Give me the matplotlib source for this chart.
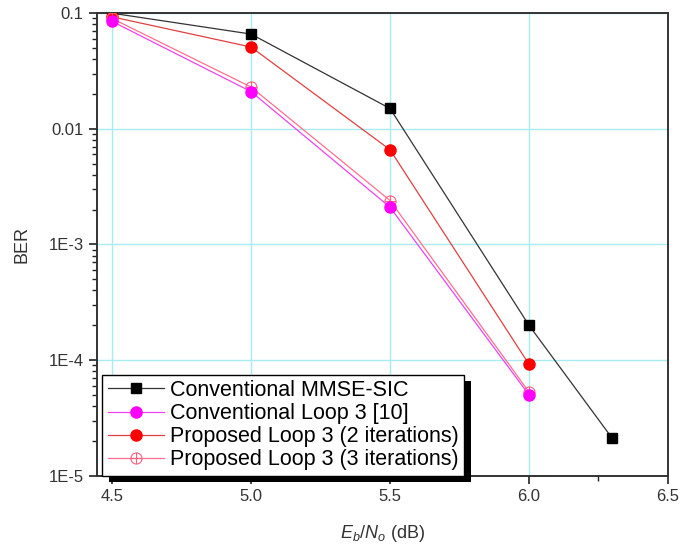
import numpy as np
import matplotlib
matplotlib.use("Agg")
import matplotlib.pyplot as plt
from matplotlib.path import Path
from matplotlib.patches import Rectangle
from matplotlib.ticker import FixedLocator, NullFormatter, MultipleLocator

plt.rcParams['font.family'] = ['Liberation Sans', 'DejaVu Sans']
plt.rcParams['mathtext.fontset'] = 'custom'
plt.rcParams['mathtext.it'] = 'Liberation Sans:italic'
plt.rcParams['mathtext.rm'] = 'Liberation Sans'

# data
snr = [4.5, 5.0, 5.5, 6.0]
snr_mmse = [4.5, 5.0, 5.5, 6.0, 6.3]
ber_mmse = [0.1, 0.066, 0.015, 2.0e-4, 2.1e-5]
ber_conv_loop3 = [0.085, 0.021, 0.0021, 5.0e-5]
ber_prop_2it = [0.093, 0.051, 0.0066, 9.2e-5]
ber_prop_3it = [0.09, 0.023, 0.0024, 5.3e-5]

labels = ['Conventional MMSE-SIC', 'Conventional Loop 3 [10]',
          'Proposed Loop 3 (2 iterations)', 'Proposed Loop 3 (3 iterations)']
yticks = [1e-5, 1e-4, 1e-3, 1e-2, 1e-1]
ytick_labels = ['1E-5', '1E-4', '1E-3', '0.01', '0.1']
xticks = [4.5, 5.0, 5.5, 6.0, 6.5]

# circle with a cross, for the 3-iteration curve
circ = Path.unit_circle()
hline = Path([[-1, 0], [1, 0]], [Path.MOVETO, Path.LINETO])
vline = Path([[0, -1], [0, 1]], [Path.MOVETO, Path.LINETO])
oplus = Path.make_compound_path(circ, hline, vline)

fig = plt.figure(figsize=(6.98, 5.5), dpi=100)
ax = fig.add_axes([0.139, 0.135, 0.818, 0.841])

ax.plot(snr_mmse, ber_mmse, color='#333333', lw=0.9, marker='s', ms=7,
        mfc='black', mec='black', label=labels[0], zorder=3)
ax.plot(snr, ber_conv_loop3, color='#ee44ee', lw=0.9, marker='o', ms=8,
        mfc='#ff00ff', mec='#ff00ff', label=labels[1], zorder=4)
ax.plot(snr, ber_prop_2it, color='#e04040', lw=0.9, marker='o', ms=8,
        mfc='#ff0000', mec='#ff0000', label=labels[2], zorder=3)
ax.plot(snr, ber_prop_3it, color='#ff7090', lw=0.9, marker=oplus, ms=8,
        mfc='none', mec='#ff6080', mew=0.8, label=labels[3], zorder=3)

ax.set_yscale('log')
ax.set_ylim(1e-5, 0.1)
ax.set_xlim(4.446, 6.5)
ax.yaxis.set_major_locator(FixedLocator(yticks))
ax.set_yticklabels(ytick_labels)
minors = [m * d for d in [1e-5, 1e-4, 1e-3, 1e-2] for m in range(2, 10)]
ax.yaxis.set_minor_locator(FixedLocator(minors))
ax.yaxis.set_minor_formatter(NullFormatter())
ax.set_xticks(xticks)
ax.set_xticklabels(['4.5', '5.0', '5.5', '6.0', '6.5'])
ax.xaxis.set_minor_locator(MultipleLocator(0.25))

ax.grid(True, which='major', color='#a8ecf0', lw=1.0)
ax.set_axisbelow(True)
ax.tick_params(which='major', direction='out', length=6, width=1.2, labelsize=12,
               colors='#222222', labelcolor='#333333')
ax.tick_params(which='minor', direction='out', length=3.5, width=1.0, colors='#222222')
for s in ax.spines.values():
    s.set_linewidth(1.4)
    s.set_color('#333333')

ax.set_ylabel('BER', fontsize=13, color='#333333', labelpad=13)
ax.set_xlabel(r'$E_b/N_o$ (dB)', fontsize=13, color='#333333', labelpad=14)

leg = ax.legend(loc='lower left', bbox_to_anchor=(0.009, 0.0), borderaxespad=0,
                fontsize=15.5, handlelength=2.6, handletextpad=0.3, labelspacing=0.1,
                borderpad=0.25, fancybox=False, framealpha=1, edgecolor='black')
leg.get_frame().set_linewidth(1.0)
leg.set_zorder(6)

# heavy black drop shadow behind the legend
fig.canvas.draw()
bb = leg.get_window_extent()
shadow = Rectangle((bb.x0 + 7, bb.y0 - 6), bb.width, bb.height, transform=None,
                   facecolor='black', edgecolor='none', zorder=5.5, clip_on=False)
ax.add_artist(shadow)

fig.savefig('out.png', dpi=100)
